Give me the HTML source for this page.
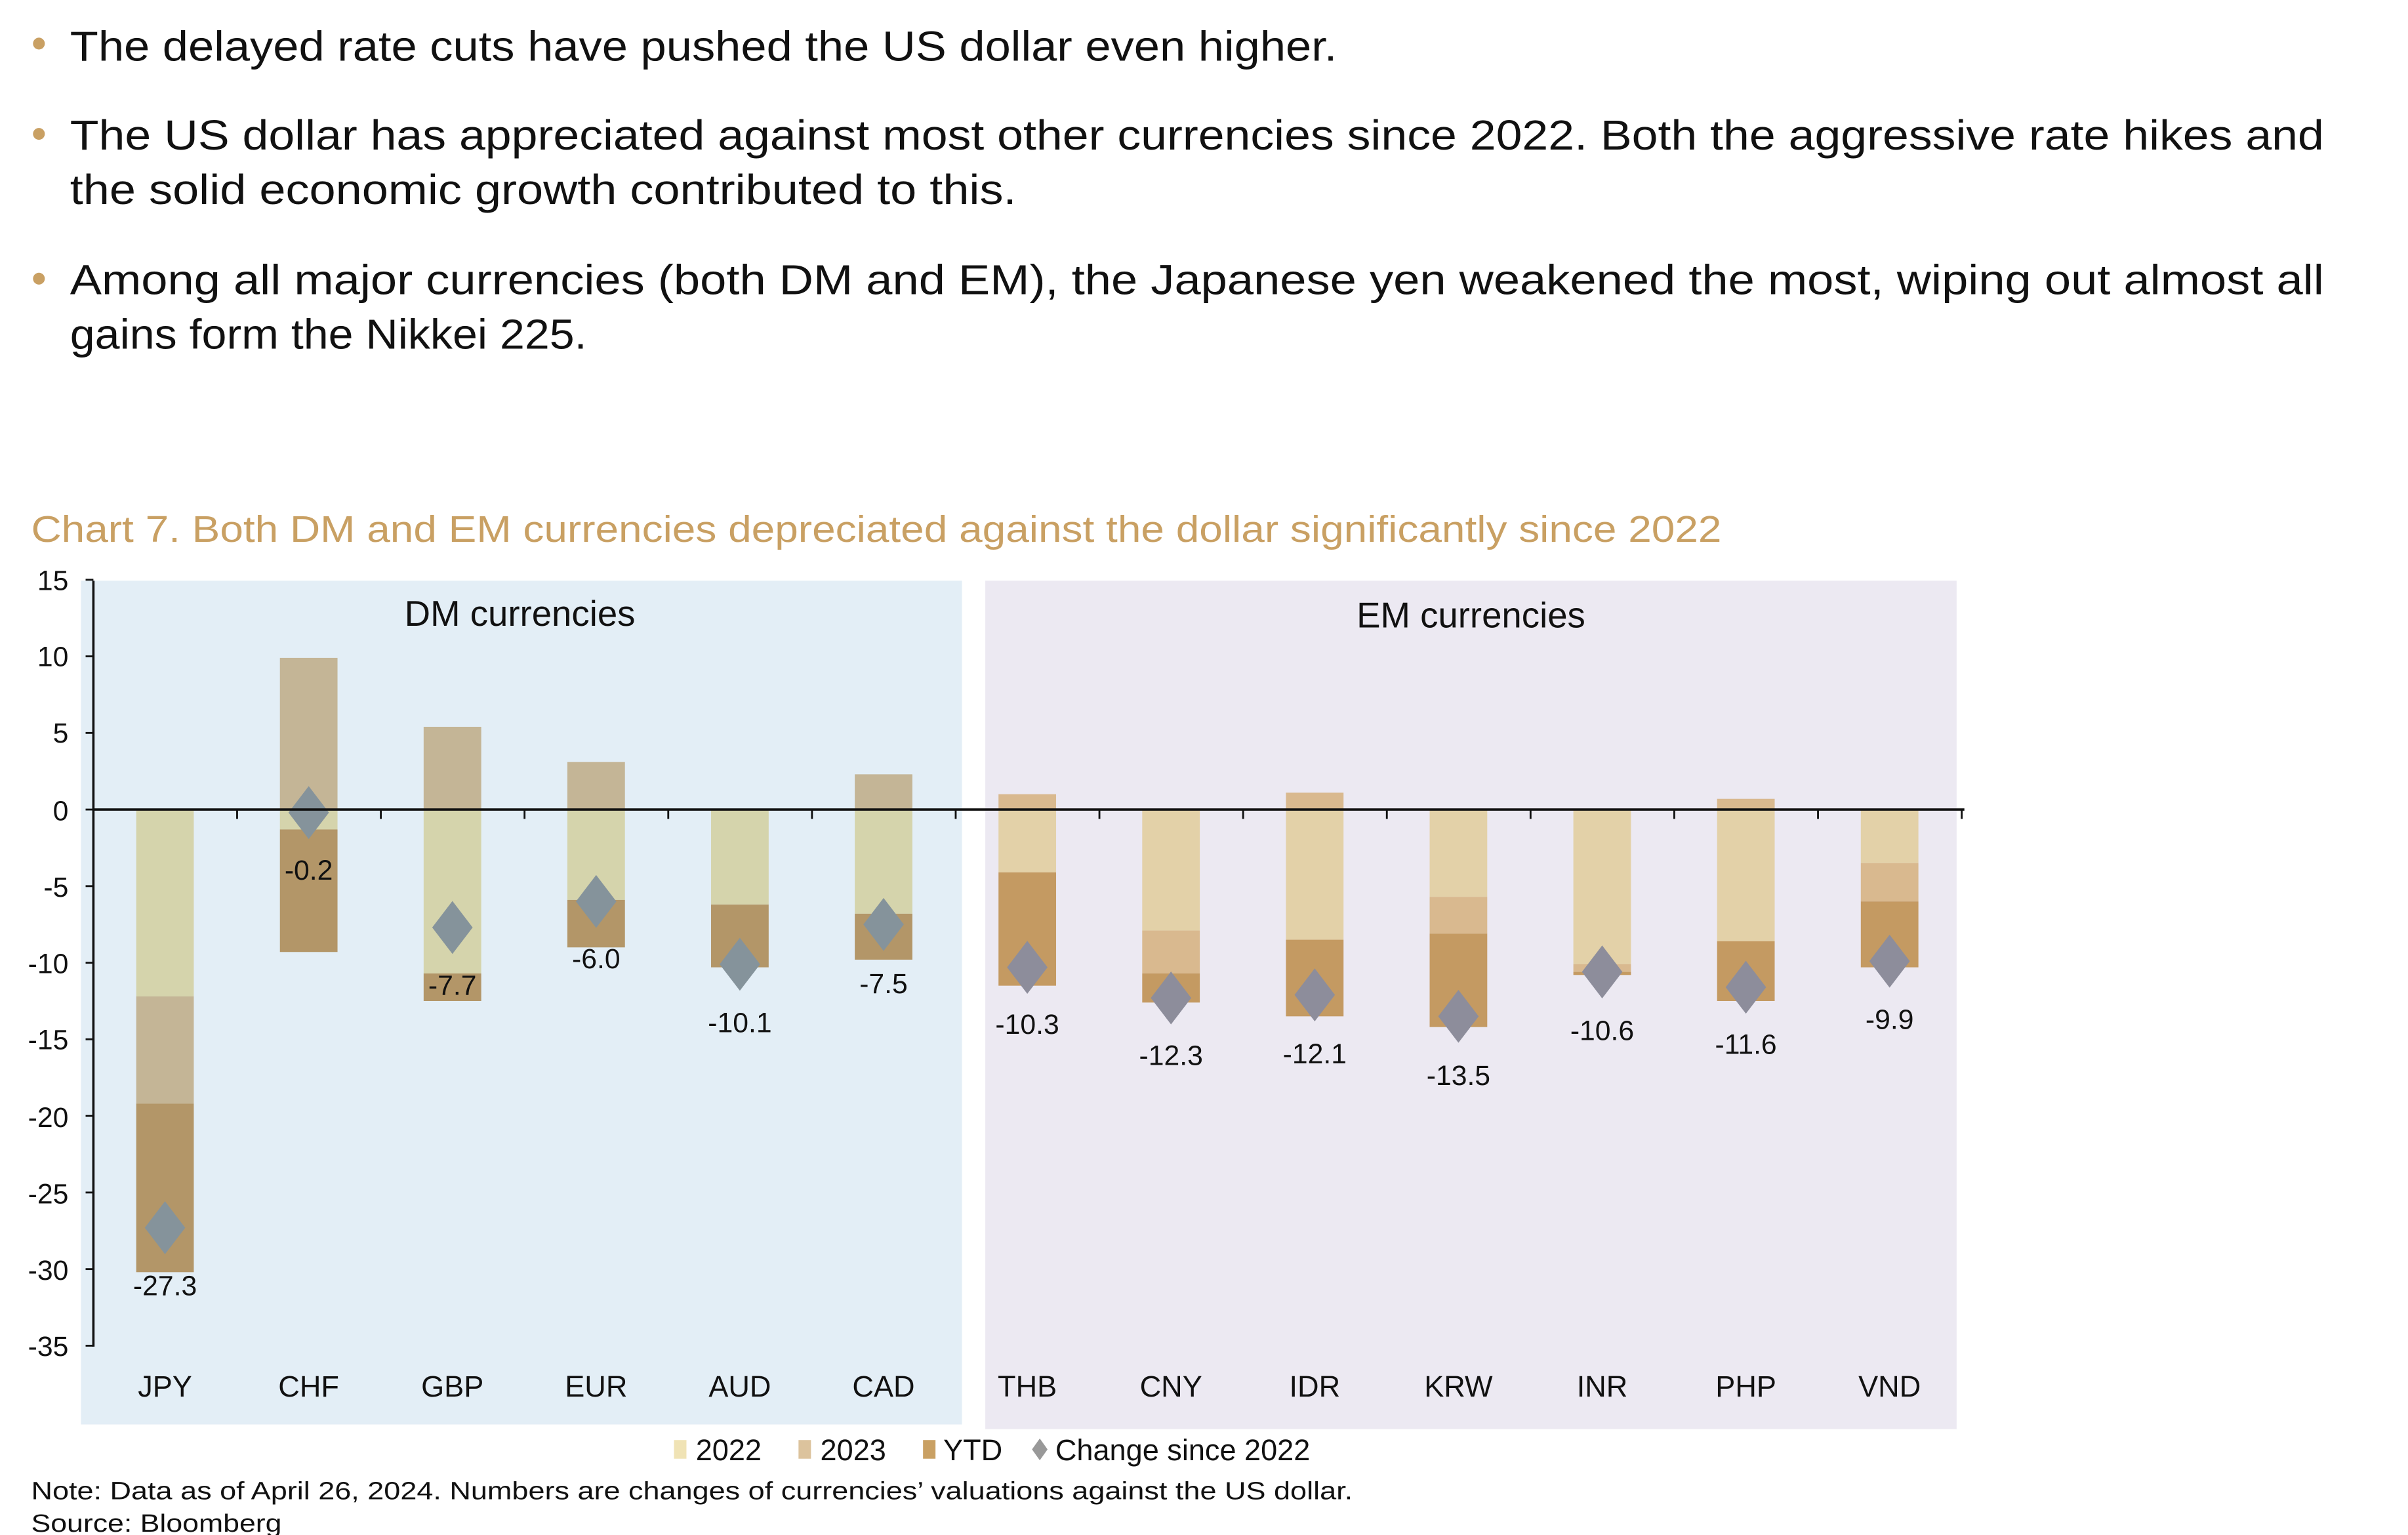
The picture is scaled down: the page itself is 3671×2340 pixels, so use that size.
<!DOCTYPE html>
<html><head><meta charset="utf-8"><style>html,body{margin:0;padding:0;background:#fff;}svg{display:block;}</style></head>
<body>
<svg width="3671" height="2340" viewBox="0 0 1547 986" preserveAspectRatio="none" xmlns="http://www.w3.org/2000/svg" font-family="Liberation Sans, sans-serif">
<rect width="1547" height="986" fill="#fff"/>
<g fill="#C9A063"><circle cx="25" cy="28" r="3.8"/><circle cx="25" cy="86" r="3.8"/><circle cx="25" cy="179" r="3.8"/></g>
<g font-size="27" fill="#111">
<text x="45" y="39" textLength="814" lengthAdjust="spacingAndGlyphs">The delayed rate cuts have pushed the US dollar even higher.</text>
<text x="45" y="96" textLength="1448" lengthAdjust="spacingAndGlyphs">The US dollar has appreciated against most other currencies since 2022. Both the aggressive rate hikes and</text>
<text x="45" y="131" textLength="608" lengthAdjust="spacingAndGlyphs">the solid economic growth contributed to this.</text>
<text x="45" y="189" textLength="1448" lengthAdjust="spacingAndGlyphs">Among all major currencies (both DM and EM), the Japanese yen weakened the most, wiping out almost all</text>
<text x="45" y="224" textLength="332" lengthAdjust="spacingAndGlyphs">gains form the Nikkei 225.</text>
</g>
<text x="20" y="348" font-size="24" fill="#C9A063" textLength="1086" lengthAdjust="spacingAndGlyphs">Chart 7. Both DM and EM currencies depreciated against the dollar significantly since 2022</text>
<rect x="52" y="373" width="566" height="542" fill="#E3EEF6"/>
<rect x="633" y="373" width="624" height="545" fill="#ECE9F2"/>
<text x="334" y="402" font-size="23" text-anchor="middle" fill="#111">DM currencies</text>
<text x="945" y="403" font-size="23" text-anchor="middle" fill="#111">EM currencies</text>
<g id="bars"></g>
<g font-size="18" fill="#111" text-anchor="end">
<text x="44" y="379">15</text><text x="44" y="428">10</text><text x="44" y="477">5</text><text x="44" y="527">0</text><text x="44" y="576">-5</text><text x="44" y="625">-10</text><text x="44" y="674">-15</text><text x="44" y="724">-20</text><text x="44" y="773">-25</text><text x="44" y="822">-30</text><text x="44" y="871">-35</text>
</g>
<script>
(function(){
var ns="http://www.w3.org/2000/svg",g=document.getElementById("bars");
function Y(v){return 520-v*9.84;}
function el(t,a,txt){var e=document.createElementNS(ns,t);for(var k in a)e.setAttribute(k,a[k]);if(txt)e.textContent=txt;g.appendChild(e);return e;}
var d=[
["JPY",[[0,-12.2,0],[-12.2,-19.2,1],[-19.2,-30.2,2]],-27.3,832],
["CHF",[[0,9.9,1],[0,-1.3,0],[-1.3,-9.3,2]],-0.2,565],
["GBP",[[0,5.4,1],[0,-10.7,0],[-10.7,-12.5,2]],-7.7,639],
["EUR",[[0,3.1,1],[0,-5.9,0],[-5.9,-9.0,2]],-6.0,622],
["AUD",[[0,-6.2,0],[-6.2,-10.3,2]],-10.1,663],
["CAD",[[0,2.3,1],[0,-6.8,0],[-6.8,-9.8,2]],-7.5,638],
["THB",[[0,1.0,1],[0,-4.1,0],[-4.1,-11.5,2]],-10.3,664],
["CNY",[[0,-7.9,0],[-7.9,-10.7,1],[-10.7,-12.6,2]],-12.3,684],
["IDR",[[0,1.1,1],[0,-8.5,0],[-8.5,-13.5,2]],-12.1,683],
["KRW",[[0,-5.7,0],[-5.7,-8.1,1],[-8.1,-14.2,2]],-13.5,697],
["INR",[[0,-10.1,0],[-10.1,-10.6,1],[-10.6,-10.8,2]],-10.6,668],
["PHP",[[0,0.7,1],[0,-8.6,0],[-8.6,-12.5,2]],-11.6,677],
["VND",[[0,-3.5,0],[-3.5,-6.0,1],[-6.0,-10.3,2]],-9.9,661]];
var dm=["#D5D4AC","#C4B596","#B39668"],em=["#E3D1A8","#D9B98F","#C49A62"];
d.forEach(function(r,i){
 var cx=106+i*92.33,col=i<6?dm:em;
 r[1].forEach(function(s){var a=Y(s[0]),b=Y(s[1]);el("rect",{x:cx-18.5,y:Math.min(a,b),width:37,height:Math.abs(a-b),fill:col[s[2]]});});
 var dy=Y(r[2]);
 el("polygon",{points:(cx)+","+(dy-17)+" "+(cx+13)+","+dy+" "+cx+","+(dy+17)+" "+(cx-13)+","+dy,fill:i<6?"#85939B":"#8D8D9B"});
 el("text",{x:cx,y:r[3],"font-size":18,"text-anchor":"middle",fill:"#111"},r[2].toFixed(1));
 el("text",{x:cx,y:897,"font-size":19,"text-anchor":"middle",fill:"#111"},r[0]);
});
el("line",{x1:60,y1:520,x2:1262,y2:520,stroke:"#111","stroke-width":1.5});
el("line",{x1:60,y1:373,x2:60,y2:865,stroke:"#111","stroke-width":1.5});
for(var v=15;v>=-35;v-=5)el("line",{x1:55,y1:Y(v),x2:60,y2:Y(v),stroke:"#111","stroke-width":1.2});
for(var k=1;k<=13;k++){var x=60+k*92.33;el("line",{x1:x,y1:520,x2:x,y2:526,stroke:"#111","stroke-width":1.2});}
})();
</script>
<g font-size="19" fill="#111">
<rect x="433" y="925" width="8" height="12" fill="#F0E3B5"/><text x="447" y="938">2022</text>
<rect x="513" y="925" width="8" height="12" fill="#DCC39D"/><text x="527" y="938">2023</text>
<rect x="593" y="925" width="8" height="12" fill="#C9A063"/><text x="606" y="938">YTD</text>
<polygon points="668,924 673,931 668,938 663,931" fill="#999"/><text x="678" y="938">Change since 2022</text>
</g>
<g font-size="16" fill="#111">
<text x="20" y="963" textLength="849" lengthAdjust="spacingAndGlyphs">Note: Data as of April 26, 2024. Numbers are changes of currencies’ valuations against the US dollar.</text>
<text x="20" y="984" textLength="161" lengthAdjust="spacingAndGlyphs">Source: Bloomberg</text>
</g>
</svg>
</body></html>
